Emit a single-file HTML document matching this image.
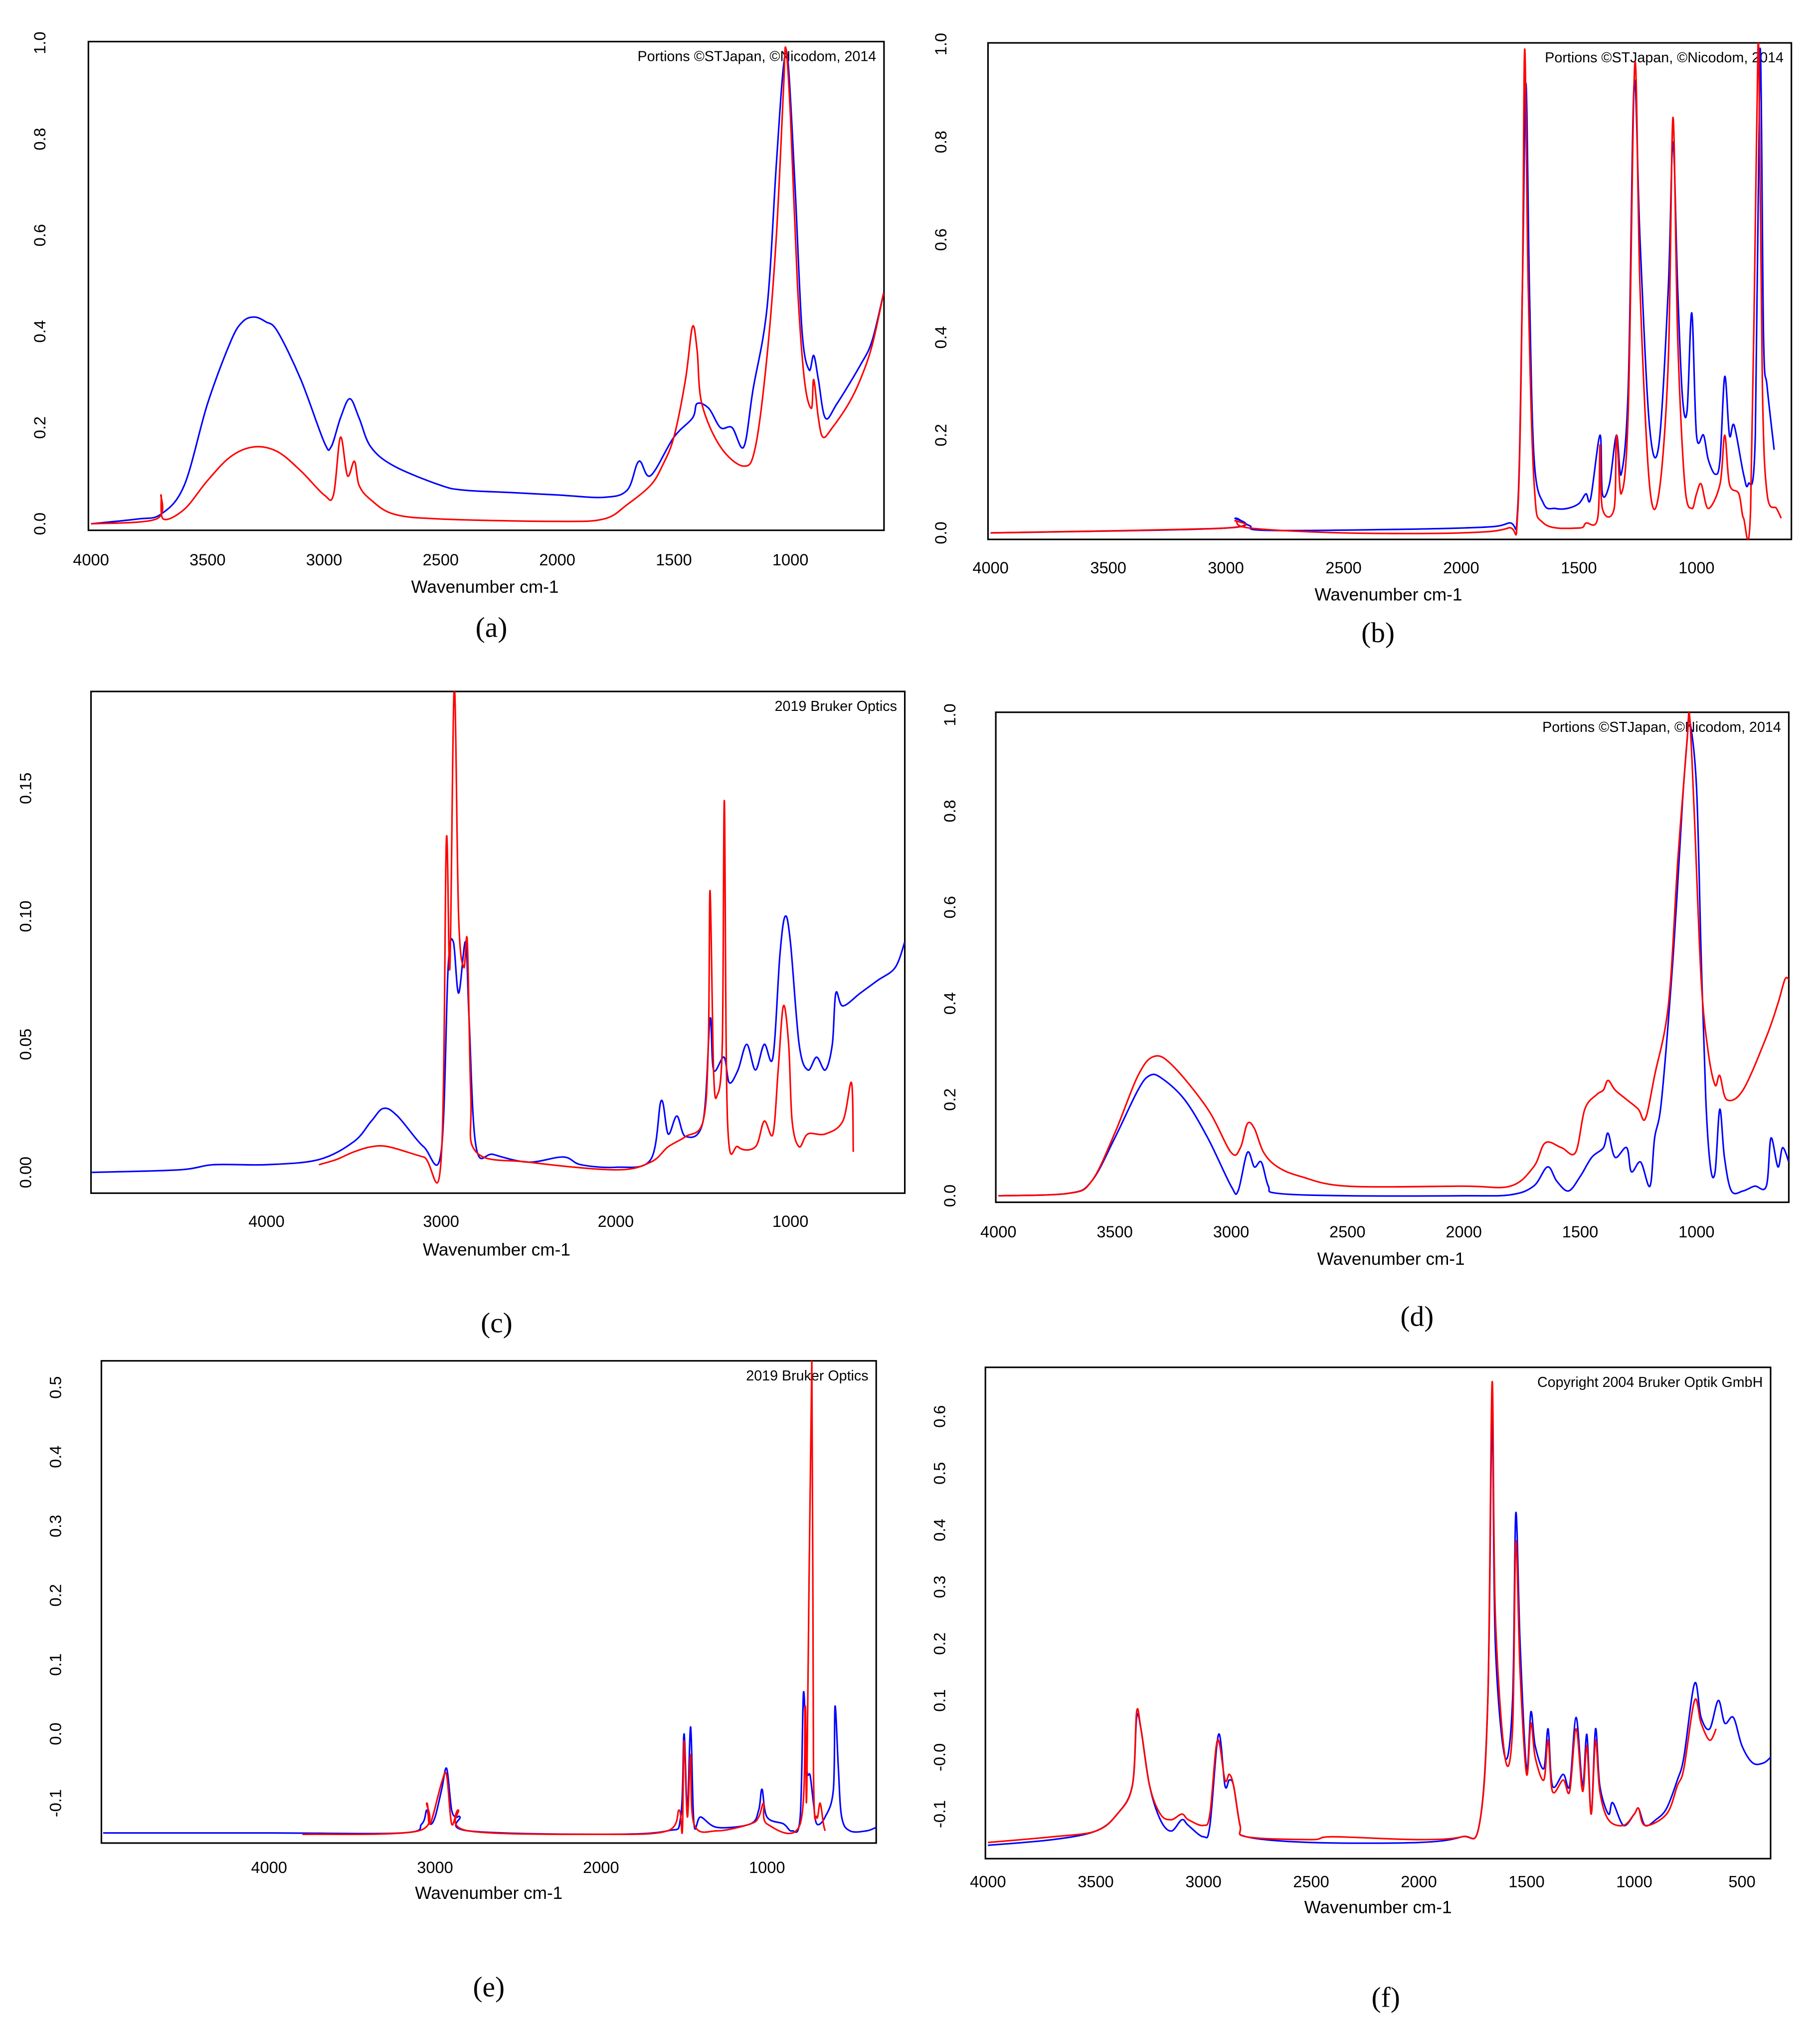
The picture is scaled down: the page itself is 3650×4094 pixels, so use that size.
<!DOCTYPE html>
<html><head><meta charset="utf-8"><style>
html,body{margin:0;padding:0;background:#fff;}
svg{display:block;}
text{font-family:"Liberation Sans",sans-serif;fill:#000;}
.cap{font-family:"Liberation Serif",serif;font-size:22px;}
</style></head><body>
<svg id="fig" width="3650" height="4094" viewBox="0 0 1400 1570.3" preserveAspectRatio="none" xmlns="http://www.w3.org/2000/svg"></svg>
<script>
// ---- data (wavenumber, absorbance) ----
const aBlue=[[4000,0],[3800,0.01],[3700,0.02],[3600,0.08],[3500,0.25],[3400,0.38],[3350,0.42],[3300,0.43],[3250,0.42],[3200,0.40],[3100,0.30],[3000,0.17],[2970,0.16],[2930,0.22],[2890,0.26],[2850,0.22],[2800,0.16],[2700,0.12],[2500,0.08],[2400,0.07],[2200,0.065],[2000,0.06],[1800,0.055],[1700,0.07],[1650,0.13],[1600,0.10],[1500,0.18],[1420,0.22],[1400,0.25],[1350,0.24],[1300,0.20],[1250,0.20],[1200,0.16],[1160,0.28],[1100,0.45],[1060,0.75],[1030,0.95],[1010,0.96],[980,0.70],[950,0.40],[920,0.32],[900,0.35],[880,0.30],[850,0.22],[800,0.25],[700,0.33],[650,0.38],[600,0.48]];
const aRed=[[4000,0],[3720,0.01],[3700,0.06],[3690,0.01],[3600,0.03],[3500,0.09],[3400,0.14],[3300,0.16],[3200,0.15],[3100,0.11],[3000,0.06],[2960,0.06],[2930,0.18],[2900,0.10],[2870,0.13],[2850,0.08],[2800,0.05],[2700,0.02],[2500,0.01],[2000,0.005],[1800,0.01],[1700,0.04],[1600,0.08],[1550,0.12],[1500,0.18],[1450,0.30],[1420,0.41],[1400,0.36],[1380,0.25],[1300,0.16],[1200,0.12],[1150,0.16],[1100,0.35],[1060,0.60],[1030,0.90],[1020,0.99],[1000,0.85],[970,0.50],[940,0.30],[910,0.24],[900,0.30],[880,0.22],[860,0.18],[820,0.20],[750,0.25],[700,0.30],[650,0.37],[600,0.48]];
const bBlue=[[4000,0],[3000,0.01],[2960,0.03],[2900,0.015],[2800,0.005],[2000,0.01],[1800,0.02],[1760,0.05],[1740,0.5],[1725,0.92],[1710,0.5],[1690,0.15],[1650,0.06],[1600,0.05],[1550,0.05],[1500,0.06],[1470,0.08],[1450,0.07],[1410,0.2],[1400,0.08],[1370,0.1],[1340,0.2],[1320,0.12],[1290,0.3],[1265,0.92],[1240,0.6],[1200,0.22],[1160,0.18],[1120,0.5],[1100,0.8],[1080,0.5],[1060,0.28],[1040,0.25],[1020,0.45],[1000,0.2],[970,0.2],[950,0.15],[920,0.12],[900,0.15],[880,0.32],[860,0.2],[840,0.22],[800,0.12],[780,0.1],[750,0.2],[730,0.99],[715,0.4],[700,0.3],[670,0.17]];
const bRed=[[4000,0],[3000,0.01],[2960,0.025],[2900,0.01],[2500,0],[2000,0],[1800,0.01],[1760,0.04],[1740,0.5],[1730,0.99],[1715,0.5],[1690,0.1],[1650,0.02],[1500,0.01],[1470,0.02],[1420,0.03],[1410,0.18],[1400,0.05],[1350,0.05],[1340,0.2],[1320,0.08],[1290,0.25],[1262,0.96],[1240,0.5],[1200,0.1],[1160,0.08],[1120,0.35],[1100,0.85],[1080,0.4],[1050,0.1],[1020,0.05],[1000,0.08],[980,0.1],[950,0.05],[900,0.1],[880,0.2],[860,0.1],[820,0.08],[800,0.03],[770,0.05],[745,0.8],[735,0.98],[720,0.3],[700,0.08],[660,0.05],[640,0.03]];
const cBlue=[[5000,0],[4500,0.001],[4300,0.003],[4000,0.003],[3700,0.005],[3500,0.012],[3400,0.02],[3330,0.025],[3250,0.022],[3100,0.01],[3000,0.008],[2960,0.08],[2930,0.09],[2900,0.07],[2860,0.09],[2840,0.06],[2800,0.01],[2700,0.007],[2500,0.004],[2300,0.006],[2200,0.003],[2000,0.002],[1800,0.005],[1740,0.028],[1700,0.015],[1650,0.022],[1600,0.014],[1500,0.02],[1460,0.06],[1440,0.04],[1380,0.045],[1350,0.035],[1300,0.04],[1250,0.05],[1200,0.04],[1150,0.05],[1100,0.045],[1060,0.085],[1030,0.1],[1000,0.09],[950,0.05],[900,0.04],[850,0.045],[800,0.04],[760,0.05],[740,0.07],[700,0.065],[600,0.07],[500,0.075],[400,0.08],[345,0.09]];
const cRed=[[3700,0.003],[3600,0.005],[3500,0.008],[3400,0.01],[3300,0.01],[3100,0.006],[3000,0.005],[2970,0.13],[2950,0.08],[2925,0.19],[2900,0.10],[2870,0.08],[2850,0.09],[2830,0.03],[2800,0.008],[2500,0.004],[2000,0.001],[1800,0.004],[1700,0.01],[1600,0.014],[1500,0.02],[1470,0.05],[1460,0.11],[1440,0.04],[1420,0.03],[1390,0.05],[1378,0.145],[1360,0.02],[1300,0.01],[1200,0.01],[1150,0.02],[1100,0.015],[1070,0.04],[1040,0.065],[1010,0.05],[990,0.02],[950,0.01],[900,0.015],[800,0.015],[700,0.02],[650,0.035],[640,0.008]];
const dBlue=[[4000,0],[3700,0.005],[3600,0.03],[3500,0.12],[3400,0.22],[3350,0.25],[3300,0.245],[3200,0.2],[3100,0.12],[3000,0.02],[2970,0.01],[2930,0.09],[2900,0.06],[2870,0.07],[2840,0.02],[2800,0.005],[2500,0],[2000,0],[1800,0.002],[1700,0.02],[1640,0.06],[1600,0.03],[1550,0.01],[1500,0.04],[1450,0.08],[1400,0.1],[1380,0.13],[1350,0.08],[1300,0.1],[1280,0.05],[1240,0.07],[1200,0.02],[1180,0.12],[1150,0.2],[1100,0.5],[1060,0.82],[1040,0.95],[1030,0.99],[1000,0.85],[980,0.5],[960,0.2],[940,0.06],[920,0.05],[900,0.18],[880,0.08],[850,0.01],[800,0.01],[750,0.02],[700,0.02],[680,0.12],[650,0.06],[630,0.1],[603,0.07]];
const dRed=[[4000,0],[3700,0.005],[3600,0.03],[3500,0.13],[3400,0.25],[3330,0.29],[3250,0.27],[3100,0.18],[3000,0.09],[2960,0.1],[2930,0.15],[2900,0.14],[2860,0.09],[2800,0.06],[2700,0.04],[2500,0.02],[2000,0.02],[1800,0.02],[1700,0.06],[1650,0.11],[1580,0.1],[1520,0.09],[1480,0.18],[1430,0.21],[1400,0.22],[1380,0.24],[1350,0.22],[1300,0.2],[1250,0.18],[1220,0.16],[1180,0.25],[1120,0.4],[1080,0.7],[1040,0.95],[1030,1.0],[1010,0.8],[980,0.45],[950,0.3],[920,0.23],[900,0.25],[870,0.2],[800,0.22],[700,0.33],[650,0.4],[620,0.45],[603,0.45]];
const eBlue=[[5000,-0.143],[4000,-0.143],[3200,-0.143],[3080,-0.13],[3050,-0.11],[3030,-0.13],[3000,-0.12],[2960,-0.08],[2930,-0.05],[2900,-0.11],[2870,-0.12],[2850,-0.12],[2800,-0.14],[2000,-0.145],[1600,-0.14],[1520,-0.12],[1500,0.0],[1480,-0.11],[1460,0.01],[1440,-0.13],[1400,-0.12],[1300,-0.135],[1100,-0.13],[1050,-0.11],[1030,-0.08],[1000,-0.12],[900,-0.13],[850,-0.14],[800,-0.12],[780,0.06],[760,-0.05],[740,-0.06],[720,-0.1],[700,-0.13],[650,-0.12],[600,-0.08],[590,0.04],[570,-0.05],[550,-0.12],[500,-0.14],[400,-0.14],[342,-0.135]];
const eRed=[[3800,-0.145],[3100,-0.14],[3050,-0.1],[3030,-0.13],[2960,-0.07],[2930,-0.06],[2900,-0.13],[2860,-0.11],[2800,-0.14],[2000,-0.145],[1600,-0.14],[1530,-0.11],[1510,-0.14],[1500,-0.01],[1480,-0.12],[1460,-0.03],[1440,-0.13],[1300,-0.14],[1100,-0.13],[1050,-0.12],[1020,-0.1],[1000,-0.13],[800,-0.13],[770,0.04],[760,-0.08],[730,0.54],[720,-0.05],[700,-0.12],[680,-0.1],[660,-0.13],[650,-0.14]];
const fBlue=[[4000,-0.155],[3700,-0.145],[3500,-0.13],[3400,-0.1],[3330,-0.05],[3310,0.07],[3290,0.05],[3250,-0.05],[3200,-0.11],[3150,-0.13],[3100,-0.11],[3070,-0.12],[3000,-0.14],[2970,-0.12],[2930,0.04],[2900,-0.05],[2880,-0.04],[2860,-0.05],[2830,-0.12],[2800,-0.14],[2500,-0.15],[2000,-0.15],[1800,-0.14],[1720,-0.12],[1680,0.1],[1660,0.6],[1645,0.2],[1600,0.0],[1565,0.1],[1550,0.43],[1530,0.2],[1500,-0.02],[1480,0.08],[1460,0.02],[1420,-0.02],[1400,0.05],[1380,-0.05],[1330,-0.03],[1300,-0.05],[1270,0.07],[1240,-0.05],[1220,0.04],[1200,-0.1],[1180,0.05],[1160,-0.05],[1120,-0.1],[1100,-0.08],[1050,-0.12],[1000,-0.1],[980,-0.09],[950,-0.12],[900,-0.11],[850,-0.09],[800,-0.04],[770,0.0],[720,0.13],[690,0.07],[650,0.05],[610,0.1],[580,0.06],[540,0.07],[500,0.02],[450,-0.01],[400,-0.01],[367,0.0]];
const fRed=[[4000,-0.15],[3700,-0.14],[3500,-0.13],[3400,-0.1],[3330,-0.05],[3310,0.08],[3290,0.05],[3250,-0.05],[3200,-0.1],[3150,-0.11],[3100,-0.1],[3070,-0.11],[3000,-0.12],[2970,-0.1],[2935,0.03],[2900,-0.04],[2880,-0.03],[2860,-0.05],[2830,-0.12],[2800,-0.14],[2500,-0.145],[2400,-0.14],[2000,-0.145],[1800,-0.14],[1720,-0.12],[1680,0.1],[1660,0.66],[1645,0.25],[1600,0.0],[1565,0.05],[1550,0.38],[1530,0.15],[1500,-0.03],[1480,0.06],[1460,0.0],[1420,-0.04],[1400,0.03],[1380,-0.06],[1330,-0.04],[1300,-0.06],[1270,0.05],[1240,-0.06],[1220,0.02],[1200,-0.1],[1180,0.03],[1160,-0.06],[1120,-0.11],[1050,-0.12],[1000,-0.1],[980,-0.09],[950,-0.12],[850,-0.1],[800,-0.05],[770,-0.02],[720,0.1],[690,0.06],[650,0.03],[620,0.05]];
const aXTicks=[4000,3500,3000,2500,2000,1500,1000];
const aYTicks=["0.0","0.2","0.4","0.6","0.8","1.0"];
const cXTicks=[4000,3000,2000,1000];
const cYTicks=["0.00","0.05","0.10","0.15"];
const eYTicks=["-0.1","0.0","0.1","0.2","0.3","0.4","0.5"];
const fXTicks=[4000,3500,3000,2500,2000,1500,1000,500];
const fYTicks=["-0.1","-0.0","0.1","0.2","0.3","0.4","0.5","0.6"];

const NS="http://www.w3.org/2000/svg";
const svg=document.getElementById('fig');
function mk(tag,attrs,parent){const e=document.createElementNS(NS,tag);for(const k in attrs)e.setAttribute(k,attrs[k]);(parent||svg).appendChild(e);return e;}
function smooth(pts){
 let d='M'+pts[0][0].toFixed(2)+' '+pts[0][1].toFixed(2);
 for(let i=0;i<pts.length-1;i++){
  const p0=pts[i-1]||pts[i],p1=pts[i],p2=pts[i+1],p3=pts[i+2]||p2;
  const c1x=p1[0]+(p2[0]-p0[0])/6,c1y=p1[1]+(p2[1]-p0[1])/6;
  const c2x=p2[0]-(p3[0]-p1[0])/6,c2y=p2[1]-(p3[1]-p1[1])/6;
  d+=` C${c1x.toFixed(2)} ${c1y.toFixed(2)} ${c2x.toFixed(2)} ${c2y.toFixed(2)} ${p2[0].toFixed(2)} ${p2[1].toFixed(2)}`;
 }
 return d;
}

const panels=[
 {id:'a',box:[68,32,680,408],x0:70,w0:4000,xs:538/3000,y0:403,ys:370,blue:aBlue,red:aRed,xt:aXTicks,yt:aYTicks,ylx:35,xly:435,tx:373,ty:456,cx:378,cy:490,note:'Portions ©STJapan, ©Nicodom, 2014'},
 {id:'b',box:[760,33,1378,415],x0:762,w0:4000,xs:543/3000,y0:410,ys:376,blue:bBlue,red:bRed,xt:aXTicks,yt:aYTicks,ylx:728,xly:441,tx:1068,ty:462,cx:1060,cy:494,note:'Portions ©STJapan, ©Nicodom, 2014'},
 {id:'c',box:[70,532,696,918],x0:205,w0:4000,xs:403/3000,y0:902,ys:1970,blue:cBlue,red:cRed,xt:cXTicks,yt:cYTicks,ylx:24,xly:944,tx:382,ty:966,cx:382,cy:1025,note:'2019 Bruker Optics'},
 {id:'d',box:[766,548,1376,925],x0:768,w0:4000,xs:537/3000,y0:920,ys:370,blue:dBlue,red:dRed,xt:aXTicks,yt:aYTicks,ylx:735,xly:952,tx:1070,ty:973,cx:1090,cy:1020,note:'Portions ©STJapan, ©Nicodom, 2014'},
 {id:'e',box:[78,1047,674,1418],x0:207,w0:4000,xs:383/3000,y0:1334,ys:533,blue:eBlue,red:eRed,xt:cXTicks,yt:eYTicks,ylx:47,xly:1441,tx:376,ty:1461,cx:376,cy:1536,note:'2019 Bruker Optics'},
 {id:'f',box:[758,1052,1362,1430],x0:760,w0:4000,xs:580/3500,y0:1352,ys:437,blue:fBlue,red:fRed,xt:fXTicks,yt:fYTicks,ylx:727,xly:1452,tx:1060,ty:1472,cx:1066,cy:1544,note:'Copyright 2004 Bruker Optik GmbH'}
];
panels.forEach(p=>{
 const g=mk('g',{});
 
 
 const X=w=>p.x0+(p.w0-w)*p.xs;
 const Y=v=>p.y0-v*p.ys;
 const [l,t,r,b]=p.box;
 const clipId='clip'+p.id;
 const cp=mk('clipPath',{id:clipId},g);mk('rect',{x:l,y:t,width:r-l,height:b-t},cp);
 const frame=mk('rect',{x:l,y:t,width:r-l,height:b-t,fill:'none',stroke:'#000','stroke-width':1.2},g);
 
 
 p.xt.forEach(w=>{
  const tx=mk('text',{x:X(w),y:p.xly,'font-size':12.5,'text-anchor':'middle'},g);
  tx.textContent=w;
  
  
 });
 p.yt.forEach(s=>{
  const v=parseFloat(s);const yy=Y(v);
  const ty=mk('text',{x:p.ylx,y:yy,'font-size':12.5,'text-anchor':'middle',transform:`rotate(-90 ${p.ylx} ${yy})`},g);
  ty.textContent=s;
  
  
 });
 const xt=mk('text',{x:p.tx,y:p.ty,'font-size':13.5,'text-anchor':'middle'},g);
 xt.textContent='Wavenumber cm-1';
 
 
 const nt=mk('text',{x:r-6,y:t+15,'font-size':11,'text-anchor':'end'},g);
 nt.textContent=p.note;
 
 
 const cap=mk('text',{x:p.cx,y:p.cy,'text-anchor':'middle',class:'cap'},g);
 cap.textContent='('+p.id+')';
 
 
 [['blue','#0000ff',p.blue],['red','#ff0000',p.red]].forEach(([nm,col,arr])=>{
  const pts=arr.map(pt=>[X(pt[0]),Y(pt[1])]);
  const path=mk('path',{d:smooth(pts),fill:'none',stroke:col,'stroke-width':1.2,'stroke-linejoin':'round','clip-path':`url(#${clipId})`},g);
  
  
 });
});
</script>
</body></html>
